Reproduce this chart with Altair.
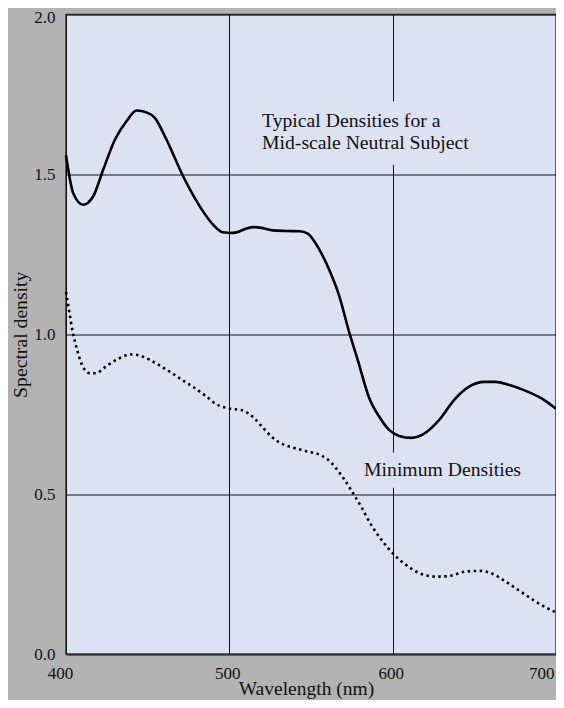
import altair as alt
import pandas as pd

# Typical densities (solid curve)
typ_wl = [400, 404.5, 410.5, 416.5, 422.8, 430, 437, 443.2, 449.3, 454.4, 461.5, 471.7,
          481.9, 490, 496, 502, 506.3, 510, 514.4, 520.5, 526.6, 535, 543, 548, 555.2,
          561.3, 567.4, 573.5, 578.6, 585.7, 591.8, 598, 604, 611.4, 619.3, 628.5, 637.7,
          646.8, 656, 663, 671, 680, 692.6, 700]
typ_d = [1.56, 1.44, 1.405, 1.43, 1.515, 1.609, 1.666, 1.70, 1.694, 1.677, 1.609, 1.494,
         1.40, 1.343, 1.319, 1.317, 1.322, 1.33, 1.335, 1.332, 1.325, 1.323, 1.322, 1.315, 1.264,
         1.20, 1.118, 1.004, 0.92, 0.80, 0.742, 0.70, 0.682, 0.676, 0.689, 0.732, 0.795,
         0.836, 0.851, 0.851, 0.842, 0.826, 0.795, 0.767]

# Minimum densities (dotted curve)
min_wl = [400, 402, 404, 406, 408.1, 411.2, 414.7, 418.1, 424.9, 432, 439.7, 443.8, 451.3,
          458.4, 465.6, 472, 478.8, 485.3, 492, 499.8, 508, 514.5, 520.2, 525.7, 532.4, 540,
          548, 555.8, 562.3, 567.4, 570, 574.5, 580.7, 586.8, 593.9, 601, 608.1, 616.3, 626.5,
          634.6, 644.8, 654, 660.1, 669.3, 678.4, 687.6, 696.7, 700]
min_d = [1.132, 1.072, 1.009, 0.967, 0.928, 0.891, 0.878, 0.878, 0.901, 0.923, 0.937, 0.935, 0.92,
         0.899, 0.876, 0.854, 0.832, 0.808, 0.781, 0.768, 0.762, 0.741, 0.71, 0.68, 0.657, 0.644,
         0.633, 0.622, 0.599, 0.567, 0.549, 0.513, 0.461, 0.404, 0.352, 0.31, 0.279, 0.253, 0.242,
         0.244, 0.258, 0.26, 0.253, 0.226, 0.195, 0.164, 0.138, 0.13]

label_text = ["Typical Densities for a", "Mid-scale Neutral Subject", "Minimum Densities"]
label_x = [520, 520, 582.5]
label_y = [1.649, 1.58, 0.557]

box_x = [515, 578]
box_x2 = [655, 690]
box_y = [1.53, 0.52]
box_y2 = [1.728, 0.63]

x_ticks = [400, 500, 600, 700]
y_ticks = [0.0, 0.5, 1.0, 1.5, 2.0]

FONT = "Liberation Serif"
PLOT_BG = "#dde2f2"

typ_df = pd.DataFrame({"wl": typ_wl, "d": typ_d})
min_df = pd.DataFrame({"wl": min_wl, "d": min_d})
lab_df = pd.DataFrame({"text": label_text, "x": label_x, "y": label_y})
box_df = pd.DataFrame({"x": box_x, "x2": box_x2, "y": box_y, "y2": box_y2})

xs = alt.Scale(domain=[400, 700], nice=False, zero=False)
ys = alt.Scale(domain=[0, 2], nice=False, zero=False)

x_axis = alt.Axis(values=x_ticks, title="Wavelength (nm)", grid=True, ticks=False,
                  domain=False, labelPadding=11, titlePadding=-1.5,
                  labelAlign={"condition": {"test": "datum.value == 700", "value": "right"},
                              "value": "center"},
                  labelOffset={"condition": {"test": "datum.value == 400", "value": -6},
                               "value": -2},
                  labelFlush=False, titleX=240)
y_axis = alt.Axis(values=y_ticks, title="Spectral density", grid=True, ticks=False,
                  domain=False, labelPadding=11, titlePadding=3, format=".1f",
                  titleFontSize=19.7,
                  labelOffset={"condition": {"test": "datum.value == 2", "value": 2.5},
                               "value": 0})

boxes = alt.Chart(box_df).mark_rect(color=PLOT_BG).encode(
    x=alt.X("x:Q", scale=xs, axis=x_axis), x2="x2:Q",
    y=alt.Y("y:Q", scale=ys, axis=y_axis), y2="y2:Q",
)

typ = alt.Chart(typ_df).mark_line(color="black", strokeWidth=2.6, interpolate="monotone").encode(
    x=alt.X("wl:Q", scale=xs, axis=x_axis),
    y=alt.Y("d:Q", scale=ys, axis=y_axis),
)

mn = alt.Chart(min_df).mark_line(color="black", strokeWidth=2.6, interpolate="monotone",
                                 strokeDash=[2.5, 3.5]).encode(
    x=alt.X("wl:Q", scale=xs, axis=x_axis),
    y=alt.Y("d:Q", scale=ys, axis=y_axis),
)

labels = alt.Chart(lab_df).mark_text(align="left", baseline="alphabetic", font=FONT,
                                     fontSize=19.7, color="#111").encode(
    x=alt.X("x:Q", scale=xs, axis=x_axis),
    y=alt.Y("y:Q", scale=ys, axis=y_axis),
    text="text:N",
)

chart = alt.layer(boxes, typ, mn, labels).properties(
    width=490, height=639.5, background="#b3b3b3",
    padding={"left": 58, "top": 6.5, "right": 0, "bottom": 46},
    autosize=alt.AutoSizeParams(type="none"),
).configure_view(
    fill=PLOT_BG, stroke="#333", strokeWidth=1.5,
).configure_axis(
    labelFont=FONT, labelFontSize=17, labelColor="#111",
    titleFont=FONT, titleFontSize=19.5, titleColor="#111", titleFontWeight="normal",
    gridColor="#111", gridWidth=1, gridOpacity=1,
)

chart.save("out.html", embed_options={"renderer": "svg", "actions": False})
